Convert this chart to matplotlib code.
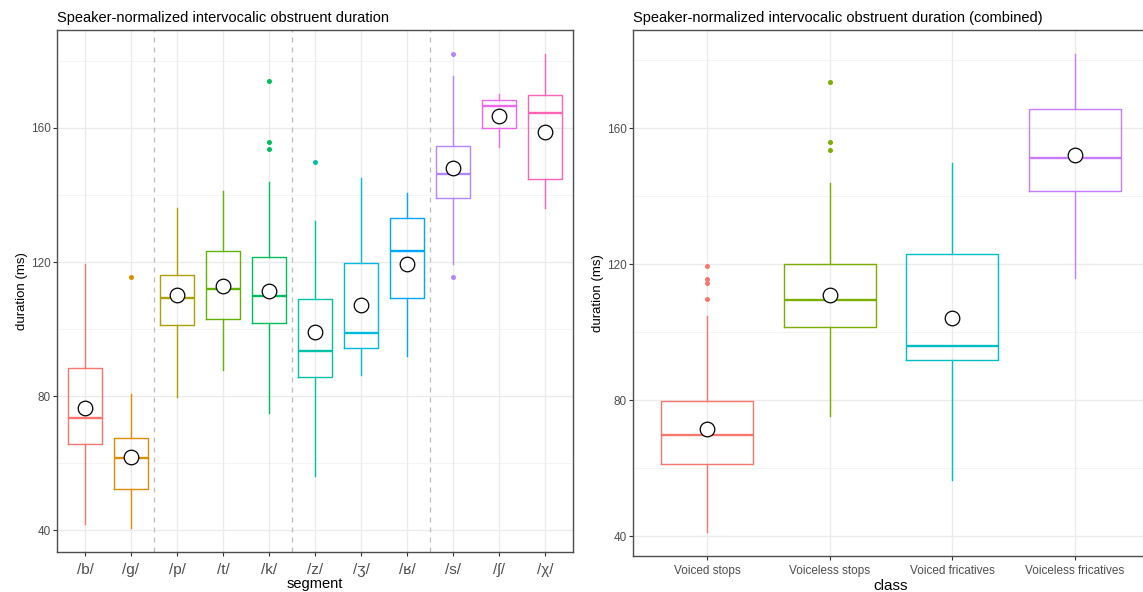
import matplotlib
matplotlib.use("Agg")
import matplotlib.pyplot as plt
import numpy as np

plt.rcParams['font.family'] = ['Liberation Sans', 'DejaVu Sans']

# ---------------- data: left panel (segments) ----------------
segments = ["/b/", "/g/", "/p/", "/t/", "/k/", "/z/", "/ʒ/", "/ʁ/", "/s/", "/ʃ/", "/χ/"]
seg_colors = ["#F8766D", "#DB8E00", "#AEA200", "#64B200", "#00BD5C", "#00C1A7",
              "#00BADE", "#00A6FF", "#B385FF", "#EF67EB", "#FF63B6"]
seg_whislo = [41.9, 40.7, 79.7, 87.9, 75.1, 56.2, 86.4, 92.1, 119.5, 154.4, 136.2]
seg_q1     = [65.8, 52.4, 101.1, 103.1, 101.9, 85.6, 94.4, 109.4, 139.0, 160.1, 144.6]
seg_med    = [73.4, 61.5, 109.3, 111.9, 109.9, 93.6, 98.9, 123.3, 146.3, 166.5, 164.4]
seg_q3     = [88.4, 67.6, 116.1, 123.4, 121.5, 109.1, 119.7, 133.0, 154.6, 168.2, 169.8]
seg_whishi = [119.3, 80.6, 136.1, 141.2, 143.8, 132.1, 144.9, 140.5, 175.4, 170.1, 182.1]
seg_mean   = [76.5, 61.9, 110.1, 112.7, 111.3, 99.0, 107.3, 119.5, 147.9, 163.4, 158.9]
seg_fliers = [[], [115.6], [], [], [174.0, 155.9, 153.6], [149.7], [], [],
              [182.0, 115.6], [], []]
group_breaks = [2.5, 5.5, 8.5]

# ---------------- data: right panel (classes) ----------------
classes = ["Voiced stops", "Voiceless stops", "Voiced fricatives", "Voiceless fricatives"]
cls_colors = ["#F8766D", "#7CAE00", "#00BFC4", "#C77CFF"]
cls_whislo = [41.3, 75.5, 56.5, 115.9]
cls_q1     = [61.2, 101.7, 91.7, 141.7]
cls_med    = [69.9, 109.4, 95.9, 151.3]
cls_q3     = [79.8, 120.2, 123.0, 165.8]
cls_whishi = [104.7, 143.9, 149.7, 181.9]
cls_mean   = [71.5, 110.9, 104.3, 152.1]
cls_fliers = [[119.5, 115.7, 114.6, 109.9], [173.7, 155.9, 153.5], [], []]

yticks = [40, 80, 120, 160]
minor_yticks = [60, 100, 140, 180]

W, H = 1143, 592
fig = plt.figure(figsize=(W / 100, H / 100), dpi=100)


def px_axes(x0, x1, ytop, ybot):
    return fig.add_axes([x0 / W, (H - ybot) / H, (x1 - x0) / W, (ybot - ytop) / H])


def draw_panel(ax, labels, colors, whislo, q1, med, q3, whishi, means, fliers,
               title, xlabel, xtick_size, xpad, xlabelpad):
    n = len(labels)
    pos = np.arange(1, n + 1)
    stats = []
    for i in range(n):
        stats.append(dict(whislo=whislo[i], q1=q1[i], med=med[i], q3=q3[i],
                          whishi=whishi[i], mean=means[i], fliers=fliers[i]))
    # grid
    ax.set_axisbelow(True)
    for y in yticks:
        ax.axhline(y, color="#EBEBEB", lw=1.0, zorder=0)
    for y in minor_yticks:
        ax.axhline(y, color="#F2F2F2", lw=0.6, zorder=0)
    for x in pos:
        ax.axvline(x, color="#EBEBEB", lw=1.0, zorder=0)

    art = ax.bxp(stats, positions=pos, widths=0.75, showmeans=True,
                 showcaps=False, patch_artist=False, manage_ticks=False,
                 meanprops=dict(marker="o", markerfacecolor="white",
                                markeredgecolor="black", markersize=10.5,
                                markeredgewidth=0.9),
                 flierprops=dict(marker="o", markersize=3.6, markeredgewidth=0),
                 boxprops=dict(linewidth=1.0),
                 whiskerprops=dict(linewidth=1.0),
                 medianprops=dict(linewidth=1.7))
    for i in range(n):
        c = colors[i]
        art["boxes"][i].set_color(c)
        art["medians"][i].set_color(c)
        art["whiskers"][2 * i].set_color(c)
        art["whiskers"][2 * i + 1].set_color(c)
        art["fliers"][i].set_markerfacecolor(c)
        art["fliers"][i].set_markeredgecolor(c)
        art["means"][i].set_zorder(5)

    allv = whislo + whishi + [v for f in fliers for v in f]
    lo, hi = min(allv), max(allv)
    pad = (hi - lo) * 0.05
    ax.set_ylim(lo - pad, hi + pad)
    ax.set_xlim(0.4, n + 0.6)
    ax.set_yticks(yticks)
    ax.set_xticks(pos)
    ax.set_xticklabels(labels, fontsize=xtick_size, color="#4D4D4D")
    ax.tick_params(axis="y", labelsize=8.5, labelcolor="#4D4D4D", color="#333333",
                   length=3, width=0.8, pad=2)
    ax.tick_params(axis="x", color="#333333", length=3, width=0.8, pad=xpad)
    for s in ax.spines.values():
        s.set_color("#4D4D4D")
        s.set_linewidth(1.0)
    ax.set_title(title, loc="left", fontsize=10.5, color="black", pad=6)
    ax.set_xlabel(xlabel, fontsize=10.5, labelpad=xlabelpad)
    ax.set_ylabel("duration (ms)", fontsize=9.5, labelpad=2)


ax1 = px_axes(57.4, 572.6, 30, 551.7)
draw_panel(ax1, segments, seg_colors, seg_whislo, seg_q1, seg_med, seg_q3,
           seg_whishi, seg_mean, seg_fliers,
           "Speaker-normalized intervocalic obstruent duration", "segment", 11, 5, 0)
for b in group_breaks:
    ax1.axvline(b, color="#BDBDBD", lw=0.9, ls=(0, (4, 4)), zorder=1)

ax2 = px_axes(633.4, 1148.6, 30, 555.7)
draw_panel(ax2, classes, cls_colors, cls_whislo, cls_q1, cls_med, cls_q3,
           cls_whishi, cls_mean, cls_fliers,
           "Speaker-normalized intervocalic obstruent duration (combined)", "class",
           8.5, 4, 1)
ax2.xaxis.label.set_size(11)

fig.savefig("out.png", dpi=100)
